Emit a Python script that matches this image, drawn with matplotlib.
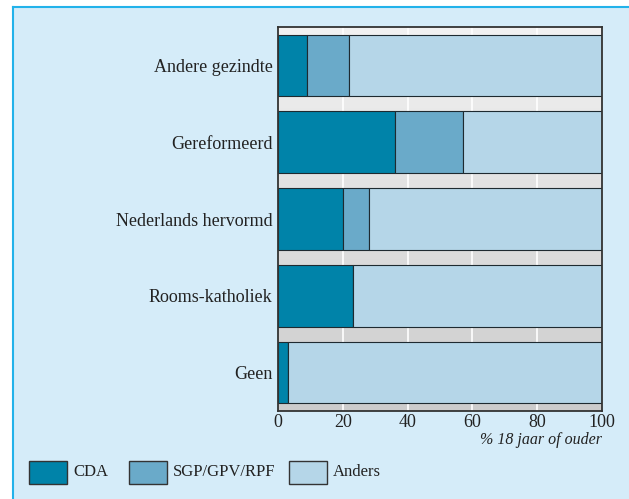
import numpy as np
import matplotlib.pyplot as plt
from matplotlib.patches import Rectangle
from matplotlib.lines import Line2D
from matplotlib.colors import LinearSegmentedColormap

categories = ["Andere gezindte", "Gereformeerd", "Nederlands hervormd",
              "Rooms-katholiek", "Geen"]
cda = [9, 36, 20, 23, 3]
sgp = [13, 21, 8, 0, 0]
anders = [78, 43, 72, 77, 97]
series_names = ["CDA", "SGP/GPV/RPF", "Anders"]
colors = ["#0083a9", "#6aaac9", "#b5d6e8"]
xticks = [0, 20, 40, 60, 80, 100]

plt.rcParams['font.family'] = ['Liberation Serif', 'DejaVu Serif']

fig = plt.figure(figsize=(6.29, 4.99), dpi=100)
W, H = 629, 499

# outer frame
fig.patches.append(Rectangle((12.5 / W, 0), 1, (H - 6.5) / H, transform=fig.transFigure,
                             facecolor="#d5ecf9", edgecolor="none", zorder=-10))
fig.lines.append(Line2D([12.5 / W, 12.5 / W], [0, (H - 6.5) / H], transform=fig.transFigure,
                        color="#22b2ea", lw=1.5, zorder=-9))
fig.lines.append(Line2D([12.5 / W, 1], [(H - 6.5) / H, (H - 6.5) / H], transform=fig.transFigure,
                        color="#22b2ea", lw=1.5, zorder=-9))

ax = fig.add_axes([278 / W, 1 - 411 / H, 324 / W, 384 / H])

# gradient background
grad = np.linspace(0, 1, 256).reshape(-1, 1)
ax.imshow(grad, extent=[0, 100, 4.5, -0.5], aspect="auto", zorder=0,
          cmap=LinearSegmentedColormap.from_list("g", ["#f2f2f2", "#cccccc"]),
          origin="upper")
for xv in xticks[1:-1]:
    ax.axvline(xv, color="white", lw=1.2, zorder=1)

y = np.arange(len(categories))
left = np.zeros(len(categories))
for vals, col in zip([cda, sgp, anders], colors):
    ax.barh(y, vals, left=left, height=0.8, color=col, edgecolor="#1e2a30",
            lw=0.8, zorder=2)
    left += np.array(vals)

ax.set_xlim(0, 100)
ax.set_ylim(4.5, -0.5)
ax.set_yticks(y)
ax.set_yticklabels(categories, fontsize=13, color="#222222")
ax.set_xticks(xticks)
ax.set_xticklabels([str(v) for v in xticks], fontsize=13, color="#222222")
ax.tick_params(axis="y", length=0, pad=4)
ax.tick_params(axis="x", length=0, pad=2)
for s in ax.spines.values():
    s.set_color("#333333")
    s.set_linewidth(1.3)

fig.text(602 / W, 1 - 440 / H, "% 18 jaar of ouder", ha="right", va="center",
         fontsize=11.5, style="italic", color="#222222")

# legend
lx = [29, 129, 289]
for x0, name, col in zip(lx, series_names, colors):
    fig.patches.append(Rectangle((x0 / W, 1 - 484 / H), 38 / W, 23 / H,
                                 transform=fig.transFigure, facecolor=col,
                                 edgecolor="#333333", lw=1.0))
    fig.text((x0 + 44) / W, 1 - 472 / H, name, ha="left", va="center",
             fontsize=12, color="#222222")

fig.savefig("out.png", dpi=100)
